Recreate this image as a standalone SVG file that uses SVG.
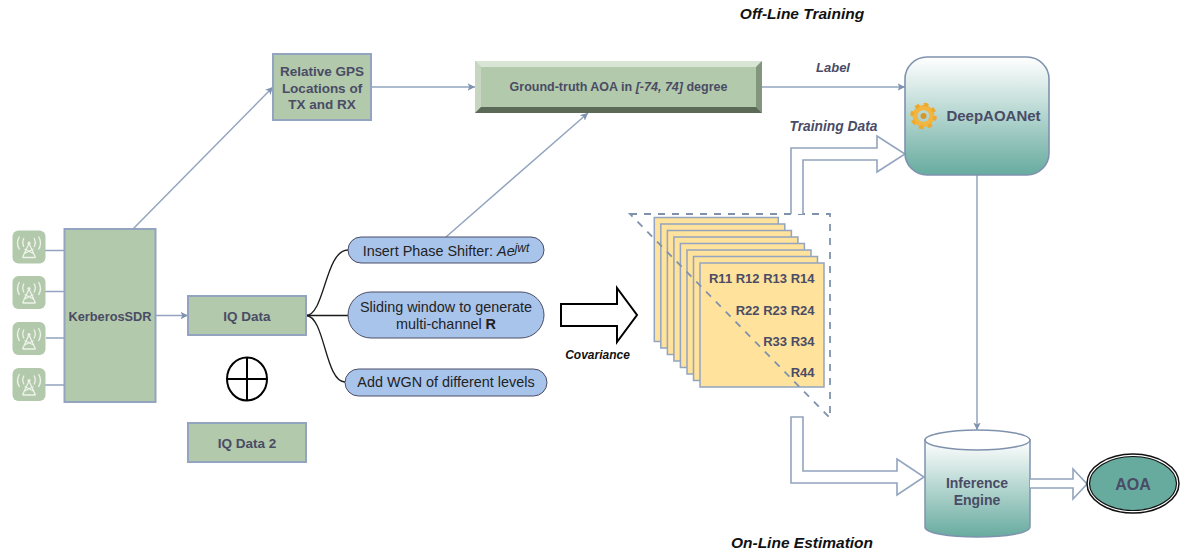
<svg xmlns="http://www.w3.org/2000/svg" width="1181" height="551" viewBox="0 0 1181 551">
<style>
text{font-family:"Liberation Sans",Arial,sans-serif;text-anchor:middle;fill:#4a4c66;font-weight:bold}
.box{fill:#b2c9ab;stroke:#92a4bf;stroke-width:2}
.conn{fill:none;stroke:#92a4bf;stroke-width:1.500}
.tree{fill:none;stroke:#1a1a1a;stroke-width:1.300}
.pill{fill:#a9c4eb;stroke:#4a4c66;stroke-width:1}
.pilltxt{font-weight:normal;fill:#222;font-size:14.400px}
.fat{fill:#fff;stroke:#92a4bf;stroke-width:1.600}
.sheet{fill:#ffe29c;stroke:#92a4bf;stroke-width:1.500}
.dash{fill:none;stroke:#7f92ad;stroke-width:1.800;stroke-dasharray:7 7}
.ant{fill:none;stroke:#eef3ea;stroke-width:1.300}
.head{font-style:italic;fill:#111;font-size:15.500px}
.r{font-size:13px;text-anchor:end}
</style>
<defs>
<marker id="arr" viewBox="0 0 10 10" refX="10" refY="5" markerWidth="5" markerHeight="5" markerUnits="strokeWidth" orient="auto"><path d="M0 0L10 5L0 10L2.500 5Z" fill="#7f92ad"/></marker>
<linearGradient id="teal" x1="0" y1="0" x2="0" y2="1"><stop offset="0" stop-color="#fff"/><stop offset="1" stop-color="#67ab9f"/></linearGradient>
<g id="antenna">
<rect width="33" height="33" rx="6" fill="#b2c9ab"/>
<path class="ant" d="M16.500 13L10 27M16.500 13L23 27M12 23L21 18.500M21 23L12 18.500M10 27L23 27"/>
<circle cx="16.500" cy="12.500" r="1.600" fill="#eef3ea"/>
<path class="ant" d="M11.500 7.500Q9 12 11.500 16.500M21.500 7.500Q24 12 21.500 16.500M7 6Q3 12.500 7 19M26 6Q30 12.500 26 19"/>
</g>
<rect id="sh" width="124" height="124" class="sheet"/>
</defs>

<g id="connectors">
<path class="conn" d="M45 250.500H64M45 291.500H64M46 338H64M45 385H65"/>
<path class="conn" d="M133 229L273 87" marker-end="url(#arr)"/>
<path class="conn" d="M156 315.500H188" marker-end="url(#arr)"/>
<path class="conn" d="M371 87H475" marker-end="url(#arr)"/>
<path class="conn" d="M446 237L588 113" marker-end="url(#arr)"/>
<path class="conn" d="M762 87H905" marker-end="url(#arr)"/>
<path class="conn" d="M977 175V430" marker-end="url(#arr)"/>
<path class="tree" d="M306 315.500C325 315 325 250 348 250"/>
<path class="tree" d="M306 315.500H348"/>
<path class="tree" d="M306 315.500C325 316 325 382 345 382"/>
</g>

<g id="ant1"><use href="#antenna" x="12.500" y="230.500"/></g>
<g id="ant2"><use href="#antenna" x="12.500" y="276"/></g>
<g id="ant3"><use href="#antenna" x="12.500" y="322"/></g>
<g id="ant4"><use href="#antenna" x="12.500" y="368"/></g>

<g id="kerberos"><rect class="box" x="64.500" y="229" width="91" height="173"/><text x="110" y="320.500" font-size="12.800">KerberosSDR</text></g>
<g id="iq1"><rect class="box" x="188" y="296" width="118" height="39"/><text x="247" y="320.500" font-size="13.500">IQ Data</text></g>
<g id="xor"><ellipse cx="247" cy="379" rx="20" ry="21.500" fill="#fff" stroke="#000" stroke-width="2"/><path d="M247 357.500V400.500M227 379H267" stroke="#000" stroke-width="2"/></g>
<g id="iq2"><rect class="box" x="188" y="423" width="118" height="39"/><text x="247" y="448" font-size="13.500">IQ Data 2</text></g>
<g id="gps"><rect class="box" x="273" y="54" width="98" height="66"/><text font-size="13.500"><tspan x="322" y="76">Relative GPS</tspan><tspan x="322" y="92.500">Locations of</tspan><tspan x="322" y="109">TX and RX</tspan></text></g>

<g id="truth">
<rect x="475" y="61" width="287" height="52" fill="#b2c9ab"/>
<path d="M475 61H762L756 67H481Z" fill="#d8e4d4"/>
<path d="M475 61V113L481 107V67Z" fill="#c6d6c1"/>
<path d="M762 61V113L756 107V67Z" fill="#82967e"/>
<path d="M475 113H762L756 107H481Z" fill="#5a6a56"/>
<text x="618.500" y="91" font-size="12.500">Ground-truth AOA in <tspan font-style="italic">[-74, 74]</tspan> degree</text>
</g>

<g id="phase"><rect class="pill" x="348" y="237" width="196" height="26" rx="13"/><text class="pilltxt" x="446" y="256">Insert Phase Shifter: <tspan font-style="italic">Ae</tspan><tspan font-style="italic" font-size="12" dy="-4">jwt</tspan></text></g>
<g id="sliding"><rect class="pill" x="348" y="292" width="196" height="46" rx="23"/><text class="pilltxt"><tspan x="446" y="312">Sliding window to generate</tspan><tspan x="446" y="329">multi-channel <tspan font-weight="bold">R</tspan></tspan></text></g>
<g id="wgn"><rect class="pill" x="345" y="369" width="202" height="27" rx="13.500"/><text class="pilltxt" x="446" y="387">Add WGN of different levels</text></g>

<g id="covariance"><path d="M561 304H617V288L637 315L617 342V326H561Z" fill="#fff" stroke="#000" stroke-width="2"/><text x="597.500" y="359" font-size="12" font-style="italic" style="fill:#111">Covariance</text></g>

<g id="matrix">
<use href="#sh" x="654.300" y="217.500"/>
<use href="#sh" x="660.800" y="224"/>
<use href="#sh" x="667.400" y="230.500"/>
<use href="#sh" x="673.900" y="237"/>
<use href="#sh" x="680.400" y="243.500"/>
<use href="#sh" x="687" y="250"/>
<use href="#sh" x="693.500" y="256.500"/>
<use href="#sh" x="700" y="263"/>
<path class="dash" d="M630 214H830V418Z"/>
<text class="r" x="814.500" y="283">R11 R12 R13 R14</text>
<text class="r" x="814.500" y="315">R22 R23 R24</text>
<text class="r" x="814.500" y="346">R33 R34</text>
<text class="r" x="814.500" y="377">R44</text>
</g>

<g id="training"><path class="fat" d="M791 214V148H877V136L905 154L877 172V160H803V214"/></g>
<g id="online"><path class="fat" d="M791 417H803V471H897V459L924 477L897 495V483H791Z"/></g>

<g id="deepaoanet">
<rect x="905" y="57" width="144" height="118" rx="22" fill="url(#teal)" stroke="#7f92ad" stroke-width="1.600"/>
<circle cx="923.500" cy="116" r="8.500" fill="none" stroke="#f2b53f" stroke-width="5"/>
<circle cx="923.500" cy="116" r="11.500" fill="none" stroke="#eda92f" stroke-width="3.500" stroke-dasharray="4.500 4.530"/>
<circle cx="923.500" cy="116" r="3" fill="#d8962a"/>
<text x="993.500" y="121" font-size="15">DeepAOANet</text>
</g>

<g id="inference">
<path d="M925 440V527C925 533 948 537 977.500 537S1030 533 1030 527V440Z" fill="url(#teal)" stroke="#7f92ad" stroke-width="1.500"/>
<ellipse cx="977.500" cy="440" rx="52.500" ry="10" fill="#fff" stroke="#7f92ad" stroke-width="1.500"/>
<text font-size="14"><tspan x="977" y="488">Inference</tspan><tspan x="977" y="505">Engine</tspan></text>
</g>

<g id="toaoa"><path class="fat" d="M1030 479H1073V469L1087 484L1073 499V488H1030"/></g>
<g id="aoa"><ellipse cx="1133" cy="483.500" rx="46" ry="29.500" fill="#fff" stroke="#111" stroke-width="1.500"/><ellipse cx="1133" cy="483.500" rx="43.500" ry="27" fill="#67ab9f" stroke="#111" stroke-width="1.200"/><text x="1133" y="490" font-size="16">AOA</text></g>

<text class="head" x="802" y="19">Off-Line Training</text>
<text class="head" x="802" y="548">On-Line Estimation</text>
<text x="833" y="72" font-size="13" font-style="italic">Label</text>
<text x="833.500" y="131" font-size="13.800" font-style="italic">Training Data</text>
</svg>
